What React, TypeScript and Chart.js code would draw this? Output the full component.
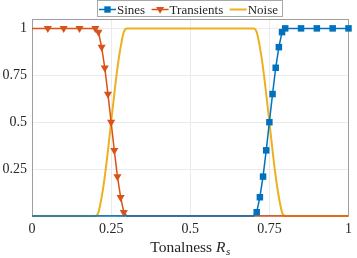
import React, { useEffect, useRef } from "react";
import { Chart, registerables } from "chart.js";

Chart.register(...registerables);

// ---- data ----
const sinesX = [0, 0.7, 0.71, 0.72, 0.73, 0.74, 0.75, 0.76, 0.77, 0.78, 0.79, 0.8, 0.85, 0.9, 0.95, 1];
const sinesY = [0, 0, 0.02, 0.1, 0.21, 0.35, 0.5, 0.65, 0.79, 0.9, 0.98, 1, 1, 1, 1, 1];

const transX = [0, 0.05, 0.1, 0.15, 0.2, 0.21, 0.22, 0.23, 0.24, 0.25, 0.26, 0.27, 0.28, 0.29, 0.3, 1];
const transY = [1, 1, 1, 1, 1, 0.98, 0.9, 0.79, 0.65, 0.5, 0.35, 0.21, 0.1, 0.02, 0, 0];

const noiseX = [
  0, 0.2, 0.21, 0.22, 0.23, 0.24, 0.25, 0.26, 0.27, 0.28, 0.29, 0.3,
  0.7, 0.71, 0.72, 0.73, 0.74, 0.75, 0.76, 0.77, 0.78, 0.79, 0.8, 1,
];
const noiseY = [
  0, 0, 0.02, 0.1, 0.21, 0.35, 0.5, 0.65, 0.79, 0.9, 0.98, 1,
  1, 0.98, 0.9, 0.79, 0.65, 0.5, 0.35, 0.21, 0.1, 0.02, 0, 0,
];

const xTicks = [0, 0.25, 0.5, 0.75, 1];
const yTicks = [0.25, 0.5, 0.75, 1];
const seriesNames = ["Sines", "Transients", "Noise"];

const BLUE = "#0072BD";
const RED = "#D95319";
const YELLOW = "#EDB120";
const FONT = "'Liberation Serif', 'Times New Roman', serif";

const toPts = (xs: number[], ys: number[]) => xs.map((x, i) => ({ x, y: ys[i] }));

const boxPlugin = {
  id: "boxPlugin",
  beforeDatasetsDraw(chart: any) {
    const { ctx, chartArea: a } = chart;
    ctx.save();
    ctx.strokeStyle = "#9e9e9e";
    ctx.lineWidth = 1;
    ctx.strokeRect(Math.round(a.left) + 0.5, Math.round(a.top) + 0.5, Math.round(a.right - a.left) - 1, Math.round(a.bottom - a.top) - 1);
    ctx.restore();
  },
};

function drawMarker(ctx: CanvasRenderingContext2D, kind: string, x: number, y: number, color: string) {
  ctx.fillStyle = color;
  ctx.beginPath();
  if (kind === "rect") {
    ctx.rect(x - 3.2, y - 3.2, 6.4, 6.4);
  } else {
    ctx.moveTo(x - 4, y - 2.5);
    ctx.lineTo(x + 4, y - 2.5);
    ctx.lineTo(x, y + 4.2);
    ctx.closePath();
  }
  ctx.fill();
}

const legendPlugin = {
  id: "customLegend",
  afterDraw(chart: any) {
    const ctx: CanvasRenderingContext2D = chart.ctx;
    ctx.save();
    ctx.font = `13px ${FONT}`;
    const colors = [BLUE, RED, YELLOW];
    const kinds = ["rect", "tri", "none"];
    const left = 97;
    const top = 0;
    const h = 16;
    const lineLen = 17;
    const widths = seriesNames.map((n) => ctx.measureText(n).width);
    const right = 283;
    const inner = widths.reduce((s, w) => s + w, 0) + seriesNames.length * (lineLen + 1);
    const gap = (right - left - 2 - inner - 5) / (seriesNames.length - 1);
    ctx.fillStyle = "#ffffff";
    ctx.fillRect(left, top, right - left, h);
    ctx.strokeStyle = "#a8a8a8";
    ctx.lineWidth = 1;
    ctx.strokeRect(left + 0.5, top + 0.5, right - left - 1, h);
    let x = left + 2;
    const cy = 9.5;
    seriesNames.forEach((n, i) => {
      ctx.strokeStyle = colors[i];
      ctx.lineWidth = i === 2 ? 2 : 1.5;
      ctx.beginPath();
      ctx.moveTo(x, cy);
      ctx.lineTo(x + lineLen, cy);
      ctx.stroke();
      if (kinds[i] !== "none") drawMarker(ctx, kinds[i], x + lineLen / 2, cy, colors[i]);
      ctx.fillStyle = "#262626";
      ctx.textBaseline = "alphabetic";
      ctx.textAlign = "left";
      ctx.fillText(n, x + lineLen + 1, 14);
      x += lineLen + 1 + widths[i] + gap;
    });
    ctx.restore();
  },
};

const titlePlugin = {
  id: "xTitle",
  afterDraw(chart: any) {
    const ctx: CanvasRenderingContext2D = chart.ctx;
    const a = chart.chartArea;
    ctx.save();
    ctx.fillStyle = "#262626";
    ctx.textBaseline = "alphabetic";
    ctx.textAlign = "left";
    const p1 = "Tonalness ";
    const p2 = "R";
    const p3 = "s";
    ctx.font = `15.5px ${FONT}`;
    const w1 = ctx.measureText(p1).width;
    ctx.font = `italic 15.5px ${FONT}`;
    const w2 = ctx.measureText(p2).width;
    ctx.font = `italic 11px ${FONT}`;
    const w3 = ctx.measureText(p3).width;
    const total = w1 + w2 + w3 + 0.5;
    let x = (a.left + a.right) / 2 - total / 2;
    const base = 252;
    ctx.font = `15.5px ${FONT}`;
    ctx.fillText(p1, x, base);
    x += w1;
    ctx.font = `italic 15.5px ${FONT}`;
    ctx.fillText(p2, x, base);
    x += w2 + 0.5;
    ctx.font = `italic 11px ${FONT}`;
    ctx.fillText(p3, x, base + 3);
    ctx.restore();
  },
};

export default function App() {
  const ref = useRef<HTMLCanvasElement | null>(null);

  useEffect(() => {
    document.body.style.margin = "0";
    const canvas = ref.current;
    if (!canvas) return;
    const markerLess = (n: number, skip: number[]) => (c: any) => (skip.includes(c.dataIndex) ? 0 : n);
    const chart = new Chart(canvas, {
      type: "line",
      data: {
        datasets: [
          {
            label: seriesNames[0],
            data: toPts(sinesX, sinesY),
            borderColor: BLUE,
            backgroundColor: BLUE,
            borderWidth: 1.5,
            pointStyle: "rect",
            pointRadius: markerLess(4.6, [0, 1]),
            pointBorderWidth: 0,
            pointHoverRadius: 0,
            order: 0,
            clip: false,
          },
          {
            label: seriesNames[1],
            data: toPts(transX, transY),
            borderColor: RED,
            backgroundColor: RED,
            borderWidth: 1.5,
            pointStyle: "triangle",
            rotation: 180,
            pointRadius: markerLess(4.7, [0, transX.length - 2, transX.length - 1]),
            pointBorderWidth: 0,
            pointHoverRadius: 0,
            order: 1,
            clip: false,
          },
          {
            label: seriesNames[2],
            data: toPts(noiseX, noiseY),
            borderColor: YELLOW,
            backgroundColor: YELLOW,
            borderWidth: 2,
            pointRadius: 0,
            cubicInterpolationMode: "monotone",
            order: 2,
            clip: false,
          },
        ] as any,
      },
      options: {
        animation: false,
        responsive: false,
        maintainAspectRatio: false,
        events: [],
        layout: { padding: { top: 19, right: 5, bottom: 0, left: 0 } },
        plugins: {
          legend: { display: false },
          tooltip: { enabled: false },
        },
        scales: {
          x: {
            type: "linear",
            min: 0,
            max: 1,
            afterBuildTicks: (s: any) => {
              s.ticks = xTicks.map((v) => ({ value: v }));
            },
            afterFit: (s: any) => {
              s.height = 42;
            },
            ticks: {
              autoSkip: false,
              maxRotation: 0,
              padding: 5,
              color: "#262626",
              font: { family: FONT, size: 14 },
              callback: (v: any) => String(v),
            },
            grid: { color: "#ebebeb", drawTicks: false, lineWidth: 1 },
            border: { display: false },
          },
          y: {
            type: "linear",
            min: 0,
            max: 1.05,
            afterBuildTicks: (s: any) => {
              s.ticks = yTicks.map((v) => ({ value: v }));
            },
            afterFit: (s: any) => {
              s.width = 32;
            },
            ticks: {
              autoSkip: false,
              padding: 5,
              color: "#262626",
              font: { family: FONT, size: 14 },
              callback: (v: any) => String(v),
            },
            grid: { color: "#ebebeb", drawTicks: false, lineWidth: 1 },
            border: { display: false },
          },
        },
      } as any,
      plugins: [boxPlugin, titlePlugin, legendPlugin],
    });
    return () => chart.destroy();
  }, []);

  return (
    <div style={{ position: "absolute", left: 0, top: 0, width: 357, height: 258 }}>
      <canvas ref={ref} width={357} height={258} style={{ display: "block", width: 357, height: 258 }} />
    </div>
  );
}
